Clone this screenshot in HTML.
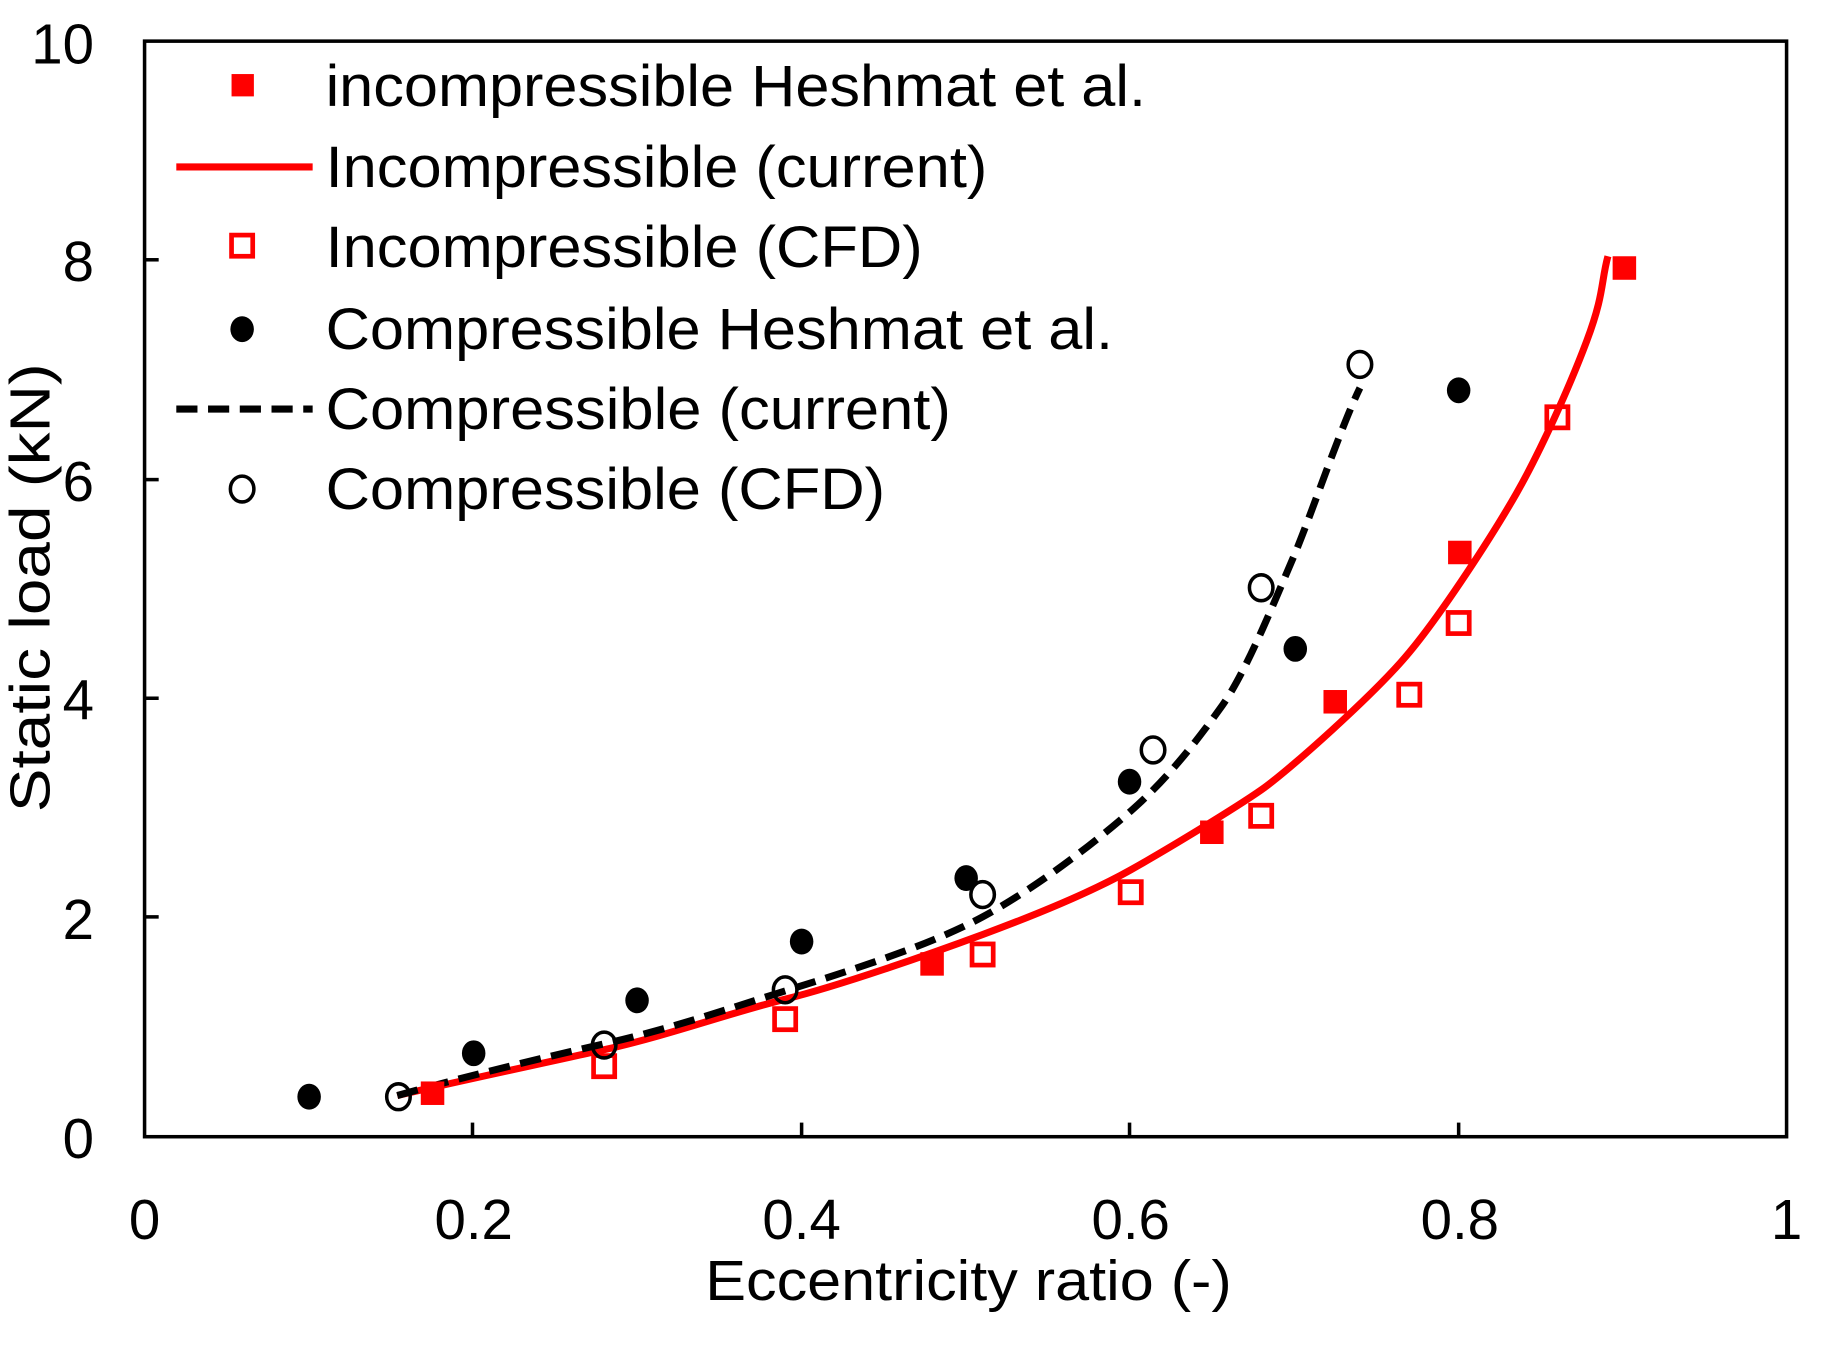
<!DOCTYPE html>
<html><head><meta charset="utf-8"><style>html,body{margin:0;padding:0;background:#fff}svg{display:block}</style></head>
<body>
<svg width="1843" height="1353" viewBox="0 0 1568 1151" preserveAspectRatio="none" xmlns="http://www.w3.org/2000/svg" font-family="'Liberation Sans', Arial, sans-serif">
<rect x="0" y="0" width="1568" height="1151" fill="#fff"/>
<rect x="123" y="35" width="1397" height="932" fill="none" stroke="#000" stroke-width="3"/>
<g stroke="#000" stroke-width="3">
<line x1="402" y1="967" x2="402" y2="955"/><line x1="682" y1="967" x2="682" y2="955"/>
<line x1="961" y1="967" x2="961" y2="955"/><line x1="1241" y1="967" x2="1241" y2="955"/>
<line x1="123" y1="780" x2="135" y2="780"/><line x1="123" y1="594" x2="135" y2="594"/>
<line x1="123" y1="408" x2="135" y2="408"/><line x1="123" y1="221" x2="135" y2="221"/>
</g>
<g font-size="48" fill="#000" text-anchor="end">
<text x="80" y="985">0</text><text x="80" y="799">2</text><text x="80" y="612">4</text>
<text x="80" y="426">6</text><text x="80" y="239">8</text><text x="80" y="54">10</text>
</g>
<g font-size="48" fill="#000" text-anchor="middle">
<text x="123" y="1054">0</text><text x="403" y="1054">0.2</text><text x="682" y="1054">0.4</text>
<text x="962" y="1054">0.6</text><text x="1242" y="1054">0.8</text><text x="1520" y="1054">1</text>
</g>
<text x="824" y="1106" font-size="48" text-anchor="middle" textLength="448" lengthAdjust="spacingAndGlyphs">Eccentricity ratio (-)</text>
<text transform="translate(42,500) rotate(-90)" font-size="48" text-anchor="middle" textLength="382" lengthAdjust="spacingAndGlyphs">Static load (kN)</text>

<path d="M338,932 C380,922 460,905 514,893 S620,862 668,850 S790,812 836,795 S930,758 962,740 S1050,688 1073,672 S1170,590 1199,555 S1270,455 1290,420 S1335,330 1350,290 S1362,240 1368,218" fill="none" stroke="#f00" stroke-width="6" stroke-linejoin="round"/>
<path d="M338,932 C380,920 460,900 514,888 S620,858 668,843 S790,805 836,780 S930,718 962,690 S1020,628 1040,600 S1085,510 1100,475 S1140,365 1157,330" fill="none" stroke="#000" stroke-width="6" stroke-dasharray="18,9"/>

<g fill="#f00">
<rect x="358" y="920" width="20" height="20"/><rect x="783" y="810" width="20" height="20"/>
<rect x="1021" y="698" width="20" height="20"/><rect x="1126" y="587" width="20" height="20"/>
<rect x="1232" y="460" width="20" height="20"/><rect x="1372" y="218" width="20" height="20"/>
</g>
<g fill="none" stroke="#f00" stroke-width="4">
<rect x="505" y="898" width="18" height="18"/><rect x="659" y="858" width="18" height="18"/>
<rect x="827" y="803" width="18" height="18"/><rect x="953" y="750" width="18" height="18"/>
<rect x="1064" y="685" width="18" height="18"/><rect x="1190" y="582" width="18" height="18"/>
<rect x="1232" y="521" width="18" height="18"/><rect x="1316" y="346" width="18" height="18"/>
</g>
<g fill="#000">
<ellipse cx="263" cy="933" rx="10" ry="11"/><ellipse cx="403" cy="896" rx="10" ry="11"/>
<ellipse cx="542" cy="851" rx="10" ry="11"/><ellipse cx="682" cy="801" rx="10" ry="11"/>
<ellipse cx="822" cy="747" rx="10" ry="11"/><ellipse cx="961" cy="665" rx="10" ry="11"/>
<ellipse cx="1102" cy="552" rx="10" ry="11"/><ellipse cx="1241" cy="332" rx="10" ry="11"/>
</g>
<g fill="none" stroke="#000" stroke-width="3">
<ellipse cx="339" cy="933" rx="10" ry="11"/><ellipse cx="514" cy="889" rx="10" ry="11"/>
<ellipse cx="668" cy="842" rx="10" ry="11"/><ellipse cx="836" cy="761" rx="10" ry="11"/>
<ellipse cx="981" cy="638" rx="10" ry="11"/><ellipse cx="1073" cy="500" rx="10" ry="11"/>
<ellipse cx="1157" cy="310" rx="10" ry="11"/>
</g>

<rect x="197" y="63" width="19" height="19" fill="#f00"/>
<line x1="150" y1="142" x2="266" y2="142" stroke="#f00" stroke-width="6"/>
<rect x="197" y="200" width="18" height="18" fill="none" stroke="#f00" stroke-width="4"/>
<ellipse cx="206" cy="280" rx="10" ry="11" fill="#000"/>
<line x1="150" y1="348" x2="266" y2="348" stroke="#000" stroke-width="6" stroke-dasharray="18,9"/>
<ellipse cx="206" cy="416" rx="10" ry="11" fill="none" stroke="#000" stroke-width="3"/>
<g font-size="50" fill="#000">
<text x="277" y="90" textLength="698" lengthAdjust="spacingAndGlyphs">incompressible Heshmat et al.</text>
<text x="277" y="159" textLength="563" lengthAdjust="spacingAndGlyphs">Incompressible (current)</text>
<text x="277" y="227" textLength="508" lengthAdjust="spacingAndGlyphs">Incompressible (CFD)</text>
<text x="277" y="297" textLength="670" lengthAdjust="spacingAndGlyphs">Compressible Heshmat et al.</text>
<text x="277" y="365" textLength="532" lengthAdjust="spacingAndGlyphs">Compressible (current)</text>
<text x="277" y="433" textLength="476" lengthAdjust="spacingAndGlyphs">Compressible (CFD)</text>
</g>
</svg>
</body></html>
